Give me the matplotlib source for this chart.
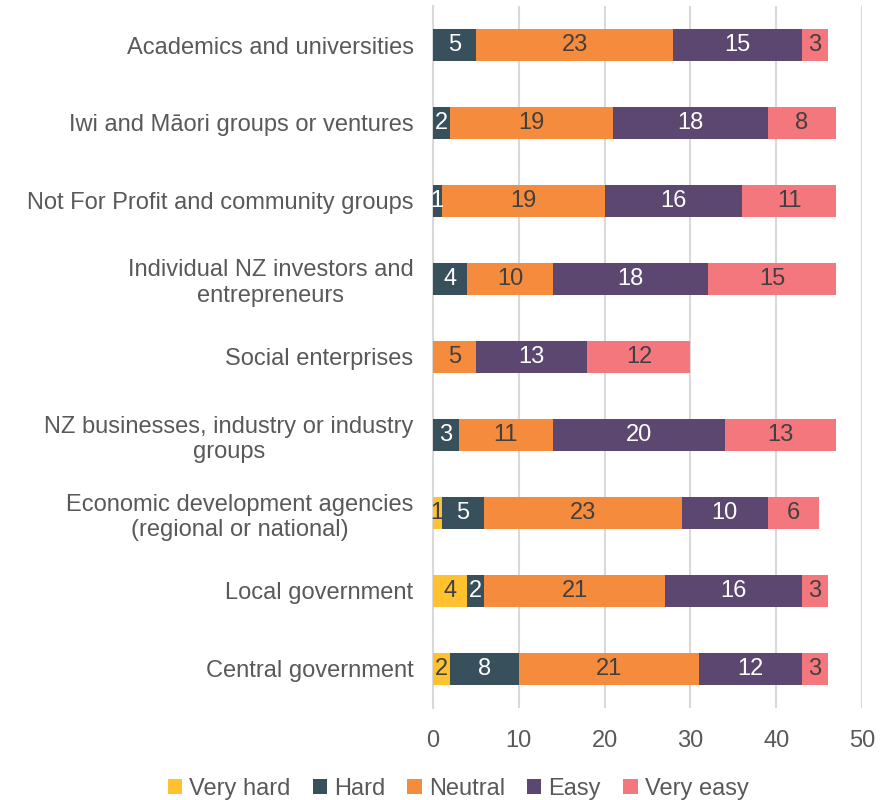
import numpy as np
import matplotlib.pyplot as plt

plt.rcParams['font.family'] = ['Liberation Sans', 'DejaVu Sans']

groups = [
    "Academics and universities",
    "Iwi and Māori groups or ventures",
    "Not For Profit and community groups",
    "Individual NZ investors and\nentrepreneurs",
    "Social enterprises",
    "NZ businesses, industry or industry\ngroups",
    "Economic development agencies\n(regional or national)",
    "Local government",
    "Central government",
]
very_hard = [0, 0, 0, 0, 0, 0, 1, 4, 2]
hard = [5, 2, 1, 4, 0, 3, 5, 2, 8]
neutral = [23, 19, 19, 10, 5, 11, 23, 21, 21]
easy = [15, 18, 16, 18, 13, 20, 10, 16, 12]
very_easy = [3, 8, 11, 15, 12, 13, 6, 3, 3]

series = [
    ("Very hard", very_hard, "#FFC12F", "#404040"),
    ("Hard", hard, "#37505B", "white"),
    ("Neutral", neutral, "#F58B3D", "#404040"),
    ("Easy", easy, "#5C4770", "white"),
    ("Very easy", very_easy, "#F4777D", "#404040"),
]

fig = plt.figure(figsize=(8.86, 8), dpi=100)
ax = fig.add_axes([0.4887, 0.115, 0.4842, 0.8775])

y = np.arange(len(groups))[::-1]
left = np.zeros(len(groups))
for name, vals, color, tcolor in series:
    vals = np.array(vals, dtype=float)
    bars = ax.barh(y, vals, left=left, height=0.41, color=color, label=name, zorder=3)
    for b, v in zip(bars, vals):
        if v > 0:
            ax.text(b.get_x() + b.get_width() / 2, b.get_y() + b.get_height() / 2,
                    f"{int(v)}", ha='center', va='center', color=tcolor,
                    fontsize=17, zorder=4)
    left += vals

ax.set_xlim(0, 50)
ax.set_ylim(-0.5, len(groups) - 0.5)
ax.set_xticks(range(0, 51, 10))
ax.set_yticks(y)
ax.set_yticklabels(groups, multialignment='center')
ax.xaxis.grid(True, color='#D9D9D9', linewidth=1.5, zorder=0)
for s in ['top', 'right', 'bottom']:
    ax.spines[s].set_visible(False)
ax.spines['left'].set_color('#D9D9D9')
ax.spines['left'].set_linewidth(1.5)
ax.tick_params(axis='x', length=0, labelsize=17, colors='#595959', pad=16)
ax.tick_params(axis='y', length=0, labelsize=17, colors='#595959', pad=14)

fig.legend(loc='lower center', bbox_to_anchor=(0.517, -0.026), ncol=5, frameon=False,
           fontsize=17, handlelength=0.6, handleheight=0.6, handletextpad=0.3,
           columnspacing=0.95, labelcolor='#595959')

fig.savefig('out.png', dpi=100)
